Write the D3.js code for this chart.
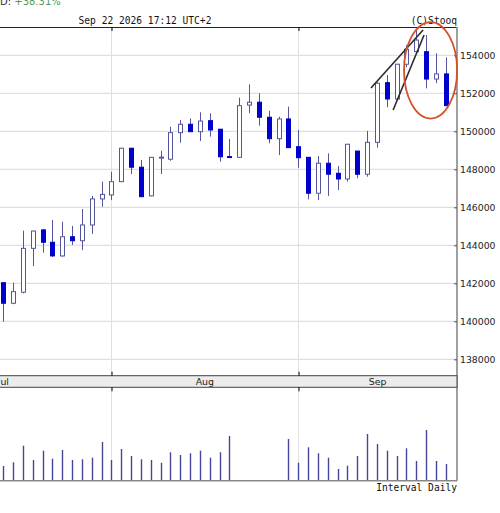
<!DOCTYPE html>
<html>
<head>
<meta charset="utf-8">
<script src="https://cdn.jsdelivr.net/npm/d3@7"></script>
<style>
    html, body { margin: 0; padding: 0; background: #fff; }
    #chart { width: 500px; height: 513px; }
    .mono { font-family: "DejaVu Sans Mono", monospace; }
    .sans { font-family: "DejaVu Sans", sans-serif; }
</style>
</head>
<body>
<div id="chart"></div>
<script>
//Datos (velas diarias)
const fechas = ['2026-07-17','2026-07-20','2026-07-21','2026-07-22','2026-07-23','2026-07-24','2026-07-27','2026-07-28','2026-07-29','2026-07-30','2026-07-31',
    '2026-08-03','2026-08-04','2026-08-05','2026-08-06','2026-08-07','2026-08-10','2026-08-11','2026-08-12','2026-08-13','2026-08-18','2026-08-19','2026-08-20','2026-08-21','2026-08-24','2026-08-25','2026-08-26','2026-08-27','2026-08-28','2026-08-31',
    '2026-09-01','2026-09-02','2026-09-03','2026-09-04','2026-09-07','2026-09-08','2026-09-09','2026-09-10','2026-09-11','2026-09-14','2026-09-15','2026-09-16','2026-09-17','2026-09-18','2026-09-21','2026-09-22'];

const apertura = [142030,140950,141530,143840,144810,144160,143440,144450,144240,145070,146440,
    146650,147350,149110,148110,146600,148620,148530,149930,150370,149980,150560,150110,148670,148630,151380,151530,150740,149610,150650,
    149190,148630,146740,148320,147790,147490,148960,147740,149420,152560,151700,153530,154190,154190,152750,153020];
const maximo = [142050,142030,144770,144770,144860,145330,145240,145020,145910,146600,147350,
    147870,149130,149120,148490,148650,148980,150240,150600,150680,151000,150950,150120,149600,151770,152470,152000,151080,150770,151300,
    150070,148650,148700,148840,148170,149330,148970,150020,152560,152960,153550,154540,155330,155070,154110,153890];
const minimo = [139980,140900,141470,142910,143610,143400,143400,144020,143750,144600,146030,
    146380,147330,147750,146530,146580,147750,148450,149400,149960,149490,149720,148400,148640,148610,150950,150300,149370,148750,149120,
    148080,146420,146380,146600,146910,147350,147530,147610,149140,151260,151680,153370,154150,152260,152530,151330];
const cierre = [140950,141560,143840,144750,144160,143440,144450,144240,145070,146440,146680,
    147350,149110,148110,146560,148630,148640,149930,150370,149980,150540,150070,148660,148660,151350,151530,150740,149610,150650,149140,
    148610,146740,148320,147740,147490,149320,147740,149420,152530,151700,153530,154320,154800,152750,153020,151350];
const volumen = [147,184,350,207,300,220,307,207,214,230,387,
    207,317,247,214,207,180,284,257,274,300,230,284,447,0,0,0,0,0,417,
    180,334,274,230,117,150,247,467,367,300,247,324,197,507,197,167];

//Meses (inicio en índice de vela; julio empieza antes de la primera vela visible)
const meses = ['Jul','Aug','Sep'];
const inicioMes = [-11, 11, 30];

const yTicks = [138000,140000,142000,144000,146000,148000,150000,152000,154000];

//Anotaciones (índice de vela, precio)
const lineaA = [[37.4, 152280],[42.7, 155330]];
const lineaB = [[39.65, 151120],[42.8, 155070]];
const elipse = {cx: 43.46, cy: 153210, rx: 2.7, ry: 2540};

//Colores
const COLOR_DOWN = '#0000cc',
COLOR_UP = '#55559d',
COLOR_GRID = '#e0e0e0',
COLOR_VOL = '#45459a';

let W = 457,
    priceTop = 27,
    priceBottom = 375.7,
    bandBottom = 387.3,
    volBottom = 480.7;

let svg = d3.select('#chart')
    .append('svg')
    .attr('width', 500)
    .attr('height', 513);

let x = d3.scaleLinear()
    .domain([0, fechas.length - 1])
    .range([3.3, 445.7]);

let y = d3.scaleLinear()
    .domain([138000, 154000])
    .range([359.3, 55.3]);

let yVol = d3.scaleLinear()
    .domain([0, 934])
    .range([volBottom, bandBottom]);

//Cabecera
let cab = svg.append('text').attr('class','sans').attr('x', 0).attr('y', 5).style('font-size','10px');
cab.append('tspan').attr('fill','#333').text('D: ');
cab.append('tspan').attr('fill','#4f9a4f').text('+38.31%');

svg.append('text').attr('class','mono')
    .attr('x', 145).attr('y', 24)
    .attr('text-anchor','middle')
    .style('font-size','9.6px').attr('fill','#111')
    .text('Sep 22 2026 17:12 UTC+2');

svg.append('text').attr('class','mono')
    .attr('x', W).attr('y', 24)
    .attr('text-anchor','end')
    .style('font-size','9.6px').attr('fill','#111')
    .text('(C)Stooq');

//Grid horizontal
svg.append('g')
    .selectAll('line')
    .data(yTicks)
    .enter()
    .append('line')
    .attr('x1', 0).attr('x2', W)
    .attr('y1', d => y(d)).attr('y2', d => y(d))
    .attr('stroke', COLOR_GRID)
    .attr('stroke-width', 1.3);

//Grid vertical (inicio de mes)
let limites = inicioMes.filter(d => d >= 0);
svg.append('g')
    .selectAll('line')
    .data(limites)
    .enter()
    .append('line')
    .attr('x1', d => Math.round(x(d)) + 0.5).attr('x2', d => Math.round(x(d)) + 0.5)
    .attr('y1', priceTop).attr('y2', volBottom)
    .attr('stroke', COLOR_GRID)
    .attr('stroke-width', 1);

//Velas
let velas = fechas.map((f,i) => ({fecha: f, o: apertura[i], h: maximo[i], l: minimo[i], c: cierre[i], v: volumen[i], i: i}));

let gVelas = svg.append('g').attr('class','velas');

gVelas.selectAll('.mecha')
    .data(velas)
    .enter()
    .append('line')
    .attr('class','mecha')
    .attr('x1', d => Math.round(x(d.i)) + 0.5).attr('x2', d => Math.round(x(d.i)) + 0.5)
    .attr('y1', d => y(d.h)).attr('y2', d => y(d.l))
    .attr('stroke', COLOR_UP)
    .attr('stroke-width', 1);

gVelas.selectAll('.cuerpo')
    .data(velas)
    .enter()
    .append('rect')
    .attr('class','cuerpo')
    .attr('x', d => Math.round(x(d.i)) - 1.5)
    .attr('y', d => y(Math.max(d.o, d.c)))
    .attr('width', 4)
    .attr('height', d => Math.max(1, Math.abs(y(d.o) - y(d.c))))
    .attr('fill', d => d.c < d.o ? COLOR_DOWN : '#fff')
    .attr('stroke', d => d.c < d.o ? COLOR_DOWN : COLOR_UP)
    .attr('stroke-width', 1);

//Volumen
svg.append('g')
    .selectAll('line')
    .data(velas.filter(d => d.v > 0))
    .enter()
    .append('line')
    .attr('x1', d => Math.round(x(d.i)) + 0.5).attr('x2', d => Math.round(x(d.i)) + 0.5)
    .attr('y1', yVol(0)).attr('y2', d => yVol(d.v))
    .attr('stroke', COLOR_VOL)
    .attr('stroke-width', 1.4);

//Marco
svg.append('line').attr('x1', 0).attr('x2', W).attr('y1', priceTop + 0.5).attr('y2', priceTop + 0.5)
    .attr('stroke', '#222').attr('stroke-width', 1);
svg.append('line').attr('x1', W).attr('x2', W).attr('y1', priceTop).attr('y2', volBottom)
    .attr('stroke', '#888').attr('stroke-width', 1.6);
svg.append('line').attr('x1', 0).attr('x2', W).attr('y1', volBottom).attr('y2', volBottom)
    .attr('stroke', '#888').attr('stroke-width', 1.6);

//Banda de meses
svg.append('rect')
    .attr('x', -1).attr('y', priceBottom)
    .attr('width', W + 1).attr('height', bandBottom - priceBottom)
    .attr('fill', '#ececec')
    .attr('stroke', '#444').attr('stroke-width', 1);

meses.forEach(function(m, i) {
    let x0 = x(inicioMes[i]),
        x1 = i < meses.length - 1 ? x(inicioMes[i + 1]) : W;
    svg.append('text').attr('class','sans')
        .attr('x', (x0 + x1) / 2).attr('y', 384.5)
        .attr('text-anchor','middle')
        .style('font-size','9.4px').attr('fill','#222')
        .text(m);
});

//Marcas de mes
let xMes = d3.scaleIdentity();
let marcas = limites.map(d => Math.round(x(d)) + 0.5);
svg.append('g').attr('transform', `translate(0,${priceTop})`)
    .call(d3.axisBottom(xMes).tickValues(marcas).tickSize(4).tickFormat(''))
    .call(g => g.select('.domain').remove());
svg.append('g').attr('transform', `translate(0,${priceBottom})`)
    .call(d3.axisTop(xMes).tickValues(marcas).tickSize(4).tickFormat(''))
    .call(g => g.select('.domain').remove());
svg.append('g').attr('transform', `translate(0,${bandBottom})`)
    .call(d3.axisBottom(xMes).tickValues(marcas).tickSize(4).tickFormat(''))
    .call(g => g.select('.domain').remove());

//Eje Y (derecha)
let yAxis = function(g) {
    g.call(d3.axisRight(y).tickValues(yTicks).tickSizeInner(-3).tickSizeOuter(0).tickPadding(3).tickFormat(d3.format('d')));
    g.call(function(g){ g.select('.domain').remove(); });
    g.selectAll('.tick text').attr('class','sans').style('font-size','9.3px').attr('fill','#222');
    g.selectAll('.tick line').attr('stroke','#555');
};

svg.append('g')
    .attr('transform', `translate(${W},0)`)
    .call(yAxis);

//Anotaciones
let linea = d3.line().x(d => x(d[0])).y(d => y(d[1]));
[lineaA, lineaB].forEach(function(l) {
    svg.append('path')
        .attr('d', linea(l))
        .attr('fill','none')
        .attr('stroke','#2a2a2a')
        .attr('stroke-width', 1.6);
});

svg.append('ellipse')
    .attr('cx', x(elipse.cx))
    .attr('cy', y(elipse.cy))
    .attr('rx', x(elipse.rx) - x(0))
    .attr('ry', y(elipse.cy - elipse.ry) - y(elipse.cy))
    .attr('fill','none')
    .attr('stroke','#d4502a')
    .attr('stroke-width', 1.8);

//Pie
svg.append('text').attr('class','mono')
    .attr('x', W).attr('y', 490.5)
    .attr('text-anchor','end')
    .style('font-size','9.6px').attr('fill','#111')
    .text('Interval Daily');
</script>
</body>
</html>
